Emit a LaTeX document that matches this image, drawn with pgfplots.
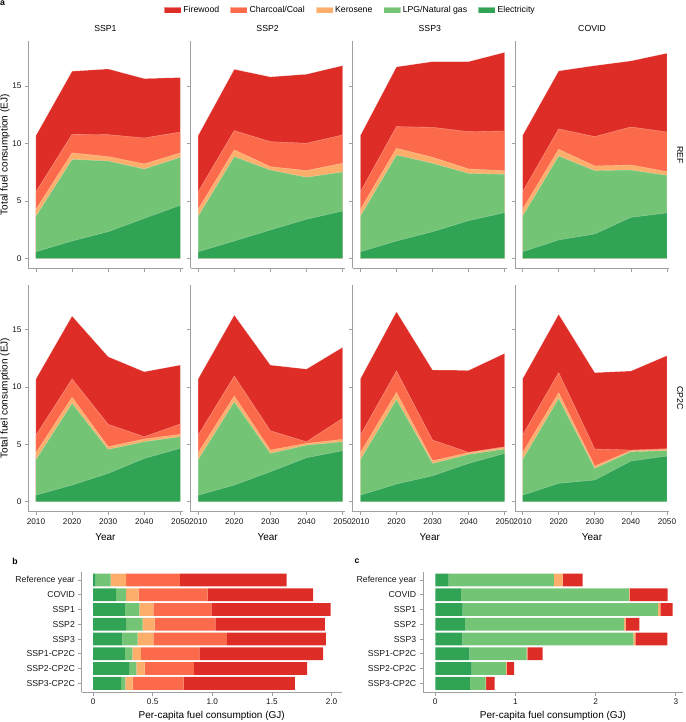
\documentclass[border=0pt]{standalone}
\usepackage{fontspec}
\setmainfont{Liberation Sans}
\usepackage{pgfplots}
\usepackage{pgfplotstable}
\pgfplotsset{compat=1.18}

\definecolor{cWood}{HTML}{DE2D26}
\definecolor{cCoal}{HTML}{FB6A4A}
\definecolor{cKero}{HTML}{FDAE6B}
\definecolor{cLPG}{HTML}{74C476}
\definecolor{cElec}{HTML}{31A354}
\definecolor{axgray}{RGB}{160,160,160}

% cumulative stack tops (EJ): elec, +LPG, +kerosene, +charcoal, +firewood
\pgfplotstableread{
year elec lpg kero coal wood
2010 0.57 3.68 4.26 5.80 10.70
2020 1.51 8.62 9.18 10.80 16.29
2030 2.32 8.48 8.86 10.77 16.49
2040 3.48 7.78 8.22 10.48 15.65
2050 4.62 8.80 9.18 11.00 15.74
}\tAa
\pgfplotstableread{
year elec lpg kero coal wood
2010 0.57 3.68 4.26 5.80 10.70
2020 1.51 8.86 9.44 11.12 16.46
2030 2.47 7.69 7.98 10.16 15.80
2040 3.40 7.06 7.64 10.02 16.03
2050 4.12 7.52 8.28 10.74 16.78
}\tAb
\pgfplotstableread{
year elec lpg kero coal wood
2010 0.57 3.68 4.26 5.80 10.70
2020 1.51 9.00 9.58 11.47 16.67
2030 2.32 8.28 8.80 11.41 17.13
2040 3.28 7.40 7.78 11.03 17.13
2050 3.98 7.32 7.64 11.09 17.94
}\tAc
\pgfplotstableread{
year elec lpg kero coal wood
2010 0.57 3.68 4.26 5.80 10.70
2020 1.60 8.91 9.49 11.27 16.32
2030 2.12 7.64 8.04 10.60 16.78
2040 3.57 7.69 8.13 11.44 17.19
2050 3.95 7.23 7.55 11.00 17.86
}\tAd
\pgfplotstableread{
year elec lpg kero coal wood
2010 0.57 3.68 4.26 5.80 10.70
2020 1.45 8.57 9.09 10.69 16.17
2030 2.47 4.56 4.79 6.74 12.63
2040 3.77 5.23 5.46 5.66 11.32
2050 4.65 5.66 5.87 6.77 11.90
}\tBa
\pgfplotstableread{
year elec lpg kero coal wood
2010 0.57 3.68 4.26 5.80 10.70
2020 1.45 8.70 9.20 10.94 16.25
2030 2.61 4.21 4.50 6.18 11.90
2040 3.83 4.93 5.08 5.22 11.55
2050 4.44 5.22 5.43 7.26 13.44
}\tBb
\pgfplotstableread{
year elec lpg kero coal wood
2010 0.57 3.68 4.26 5.80 10.70
2020 1.54 8.91 9.52 11.38 16.55
2030 2.26 3.34 3.57 5.37 11.47
2040 3.34 4.12 4.27 4.30 11.44
2050 4.21 4.59 4.73 4.79 12.92
}\tBc
\pgfplotstableread{
year elec lpg kero coal wood
2010 0.57 3.68 4.26 5.80 10.70
2020 1.60 9.00 9.49 11.24 16.32
2030 1.89 2.90 3.11 4.59 11.24
2040 3.54 4.36 4.44 4.50 11.38
2050 3.98 4.44 4.56 4.62 12.72
}\tBd

% per-capita (GJ), one row per case, idx 7 = reference year at top
\pgfplotstableread{
idx elec lpg kero coal wood
7 0.022 0.126 0.129 0.452 0.894
6 0.193 0.084 0.106 0.578 0.885
5 0.268 0.120 0.118 0.486 1.000
4 0.277 0.139 0.101 0.508 0.919
3 0.246 0.128 0.132 0.617 0.830
2 0.268 0.062 0.072 0.489 1.039
1 0.302 0.061 0.070 0.413 0.950
0 0.235 0.036 0.061 0.428 0.933
}\tPb
\pgfplotstableread{
idx elec lpg kero coal wood
7 0.166 1.314 0.108 0 0.250
6 0.320 2.096 0.008 0 0.474
5 0.341 2.437 0.029 0 0.153
4 0.370 1.983 0.021 0 0.171
3 0.337 2.133 0.025 0 0.399
2 0.424 0.715 0.009 0 0.191
1 0.453 0.428 0.009 0 0.095
0 0.432 0.196 0.005 0 0.107
}\tPc

\newcommand{\fs}{\fontsize{8.7}{10}\selectfont}
\newcommand{\fst}{\fontsize{8.2}{9}\selectfont}

\pgfplotsset{
  base/.style={
    scale only axis, anchor=south west,
    axis x line*=bottom, axis y line*=left,
    axis line style={draw=axgray, line width=0.6pt},
    tick style={draw=axgray, line width=0.6pt},
    tick align=outside, major tick length=3.3pt,
    /pgf/number format/assume math mode=true,
    tick label style={font=\fst, text=black!90},
    label style={font=\fs},
    title style={font=\fs, at={(0.5,1)}, anchor=base, yshift=3.3pt},
  },
  area/.style={
    base, width=154.2pt, height=227pt,
    xmin=2007.87, xmax=2050.6, ymin=-0.87, ymax=18.9,
    xtick={2010,2020,2030,2040,2050}, ytick={0,5,10,15},
    x tick label style={/pgf/number format/1000 sep={}},
    every axis y label/.style={at={(axis description cs:-0.151,0.5)}, rotate=90, anchor=center},
    every axis x label/.style={at={(axis description cs:0.5,-0.1115)}, anchor=center},
  },
  bars/.style={
    base, width=260pt, height=120.6pt,
    xbar stacked, bar width=12.9pt,
    ymin=-0.61, ymax=7.56, ytick={0,...,7},
    yticklabels={SSP3-CP2C,SSP2-CP2C,SSP1-CP2C,SSP3,SSP2,SSP1,COVID,Reference year},
    y tick label style={font=\fs},
    xlabel={Per-capita fuel consumption (GJ)},
    every axis x label/.style={at={(axis description cs:0.5,-0.1965)}, anchor=center},
  },
  edge/.style={draw=white, draw opacity=0.45, line width=0.35pt},
}

\newcommand{\areas}[1]{%
  \addplot[fill=cWood, edge, area legend] table[x=year, y=wood]{#1} \closedcycle;
  \addplot[fill=cCoal, edge, area legend] table[x=year, y=coal]{#1} \closedcycle;
  \addplot[fill=cKero, edge, area legend] table[x=year, y=kero]{#1} \closedcycle;
  \addplot[fill=cLPG, edge, area legend] table[x=year, y=lpg]{#1} \closedcycle;
  \addplot[fill=cElec, edge, area legend] table[x=year, y=elec]{#1} \closedcycle;
}
\newcommand{\bars}[1]{%
  \addplot[fill=cElec, draw=none] table[x=elec, y=idx]{#1};
  \addplot[fill=cLPG, draw=none] table[x=lpg, y=idx]{#1};
  \addplot[fill=cKero, draw=none] table[x=kero, y=idx]{#1};
  \addplot[fill=cCoal, draw=none] table[x=coal, y=idx]{#1};
  \addplot[fill=cWood, draw=none] table[x=wood, y=idx]{#1};
}

\begin{document}
\begin{tikzpicture}
\useasboundingbox (0pt,0pt) rectangle (685pt,-722pt);

% ---- panel a, REF row
\begin{axis}[area, at={(28.3pt,-268.3pt)}, xticklabels={}, title={SSP1},
  ylabel={Total fuel consumption (EJ)},
  legend entries={Firewood,Charcoal/Coal,Kerosene,LPG/Natural gas,Electricity},
  legend image code/.code={\fill[#1, draw=none] (0pt,-7pt) rectangle (16pt,7pt);},
  legend style={at={(axis description cs:0.880,1.138)}, anchor=west, draw=none, fill=none,
    inner sep=0pt, outer sep=0pt, legend columns=5, font=\fs,
    nodes={inner sep=2pt},
    /tikz/every even column/.append style={column sep=9pt}},
]
\areas{\tAa}
\end{axis}
\begin{axis}[area, at={(190.5pt,-268.3pt)}, xticklabels={}, yticklabels={}, title={SSP2}]
\areas{\tAb}
\end{axis}
\begin{axis}[area, at={(352.7pt,-268.3pt)}, xticklabels={}, yticklabels={}, title={SSP3}]
\areas{\tAc}
\end{axis}
\begin{axis}[area, at={(514.9pt,-268.3pt)}, xticklabels={}, yticklabels={}, title={COVID}]
\areas{\tAd}
\end{axis}

% ---- panel a, CP2C row
\begin{axis}[area, at={(28.3pt,-511.7pt)}, xlabel={Year}, ylabel={Total fuel consumption (EJ)}]
\areas{\tBa}
\end{axis}
\begin{axis}[area, at={(190.5pt,-511.7pt)}, xlabel={Year}, yticklabels={}]
\areas{\tBb}
\end{axis}
\begin{axis}[area, at={(352.7pt,-511.7pt)}, xlabel={Year}, yticklabels={}]
\areas{\tBc}
\end{axis}
\begin{axis}[area, at={(514.9pt,-511.7pt)}, xlabel={Year}, yticklabels={}]
\areas{\tBd}
\end{axis}

% ---- panel b
\begin{axis}[bars, at={(81.7pt,-692.3pt)}, xmin=-0.095, xmax=2.085,
  xtick={0,0.5,1,1.5,2}, xticklabels={0,0.5,1.0,1.5,2.0}]
\bars{\tPb}
\end{axis}

% ---- panel c
\begin{axis}[bars, at={(423pt,-692.3pt)}, xmin=-0.153, xmax=3.09,
  xtick={0,1,2,3}, xticklabels={0,1,2,3}]
\bars{\tPc}
\end{axis}

\node[font=\fs, rotate=-90] at (680pt,-155pt) {REF};
\node[font=\fs, rotate=-90] at (680pt,-398pt) {CP2C};
\node[font=\fs\bfseries, anchor=north west, inner sep=0pt] at (0pt,-1pt) {a};
\node[font=\fs\bfseries] at (15pt,-561pt) {b};
\node[font=\fs\bfseries] at (357pt,-561pt) {c};
\end{tikzpicture}
\end{document}
